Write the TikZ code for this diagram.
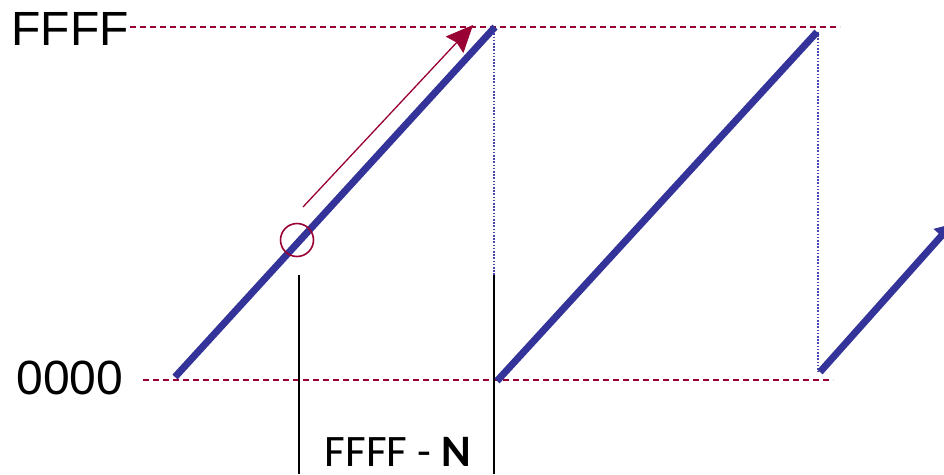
\documentclass[tikz,border=0pt]{standalone}
\usepackage{fontspec}
\setmainfont{Liberation Sans}
\newfontfamily\carlfont{Carlito}
\usetikzlibrary{arrows.meta}
\definecolor{dred}{HTML}{990033}
\definecolor{dblue}{HTML}{333399}
\definecolor{gblue}{HTML}{4848B0}
\begin{document}
\begin{tikzpicture}[x=1pt,y=-1pt,
  level/.style={dred,line width=1.3pt,dash pattern=on 6pt off 4pt},
  saw/.style={dblue,line width=7pt},
  guide/.style={gblue,line width=1.8pt,dash pattern=on 1.6pt off 1.6pt},
  tick/.style={black,line width=1.3pt},
  lbl/.style={inner sep=0pt,anchor=base,font=\fontsize{48}{52}\selectfont}]
\useasboundingbox (0,0) rectangle (944,474);
% coordinates
\coordinate (t0) at (130,27);
\coordinate (t1) at (840,27);
\coordinate (b0) at (143,380);
\coordinate (b1) at (833,380);
\coordinate (s1a) at (175,377);
\coordinate (s1b) at (495,27);
\coordinate (s2a) at (497,381);
\coordinate (s2b) at (817,32);
\coordinate (s3a) at (820,372);
\coordinate (s3b) at (952,224);
\coordinate (g1a) at (494,27);
\coordinate (g1b) at (494,381);
\coordinate (g2a) at (818,32);
\coordinate (g2b) at (818,372);
\coordinate (ra) at (303,207);
\coordinate (rb) at (473,25);
\coordinate (k1a) at (299,275);
\coordinate (k1b) at (299,474);
\coordinate (k2a) at (494,275);
\coordinate (k2b) at (494,474);
% labels
\node[lbl] (ffff) at (70,45) {FFFF};
\node[lbl] (zero) at (70,394) {0000};
\node[inner sep=0pt,text depth=0pt,anchor=base,font=\carlfont\fontsize{45}{50}\selectfont] (diff) at (398,466) {FFFF - \textbf{N}};
% level lines
\draw[level] (t0) -- (t1);
\draw[level] (b0) -- (b1);
% guides
\draw[guide] (g1a) -- (g1b);
\draw[guide] (g2a) -- (g2b);
% sawtooth
\draw[saw] (s1a) -- (s1b);
\draw[saw] (s2a) -- (s2b);
\draw[saw,-{Triangle[length=16pt,width=20pt]}] (s3a) -- (s3b);
% red arrow and circle
\draw[dred,line width=1.3pt,-{Stealth[length=27pt,width=24pt,inset=3pt]}] (ra) -- (rb);
\node[draw=dred,line width=1.6pt,circle,minimum size=33pt,inner sep=0pt] (mark) at (297,240) {};
% ticks
\draw[tick] (k1a) -- (k1b);
\draw[tick] (k2a) -- (k2b);
\end{tikzpicture}
\end{document}
